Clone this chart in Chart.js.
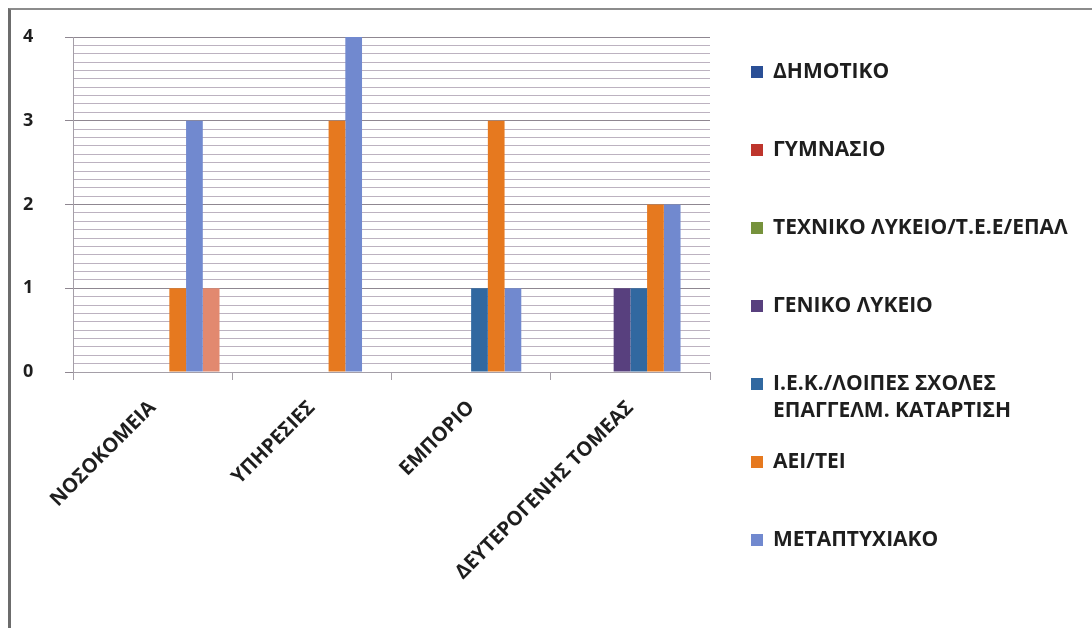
<!DOCTYPE html>
<html>
<head>
<meta charset="utf-8">
<title>Κλάδοι απασχόλησης ανά επίπεδο εκπαίδευσης</title>
<script src="https://cdn.jsdelivr.net/npm/chart.js@4.4.1/dist/chart.umd.min.js"></script>
<style>
  html, body { margin: 0; padding: 0; background: #fff; }
  #moldura {
    position: absolute; left: 8px; top: 8px;
    width: 1084px; height: 620px; box-sizing: border-box;
    border-top: 2px solid #8c8c8c; border-left: 3px solid #6c6c6c;
  }
  #moldura canvas { display: block; }
</style>
</head>
<body>
<div id="moldura"><canvas id="grafico" width="1081" height="618"></canvas></div>
<script>
// categorias (eixo x)
const categorias = ["ΝΟΣΟΚΟΜΕΙΑ", "ΥΠΗΡΕΣΙΕΣ", "ΕΜΠΟΡΙΟ", "ΔΕΥΤΕΡΟΓΕΝΗΣ ΤΟΜΕΑΣ"];

// séries
const nomesSeries = [
  "ΔΗΜΟΤΙΚΟ",
  "ΓΥΜΝΑΣΙΟ",
  "ΤΕΧΝΙΚΟ ΛΥΚΕΙΟ/Τ.Ε.Ε/ΕΠΑΛ",
  "ΓΕΝΙΚΟ ΛΥΚΕΙΟ",
  "Ι.Ε.Κ./ΛΟΙΠΕΣ ΣΧΟΛΕΣ\nΕΠΑΓΓΕΛΜ. ΚΑΤΑΡΤΙΣΗ",
  "ΑΕΙ/ΤΕΙ",
  "ΜΕΤΑΠΤΥΧΙΑΚΟ",
  ""
];
const dimotiko     = [0, 0, 0, 0];
const gymnasio     = [0, 0, 0, 0];
const texniko      = [0, 0, 0, 0];
const genikoLykeio = [0, 0, 0, 1];
const iek          = [0, 0, 1, 1];
const aeiTei       = [1, 3, 3, 2];
const metaptyxiako = [3, 4, 1, 2];
const semNome      = [1, 0, 0, 0];

// rótulos do eixo y
const rotulosY = ["0", "1", "2", "3", "4"];

const valores = [dimotiko, gymnasio, texniko, genikoLykeio, iek, aeiTei, metaptyxiako, semNome];
const cores = ["#2a4f96", "#be352c", "#76923c", "#58407e", "#3168a0", "#e6791f", "#7189cf", "#e2896f"];

// LEGENDA
const legenda = {
  id: "legenda",
  afterDraw(chart) {
    const ctx = chart.ctx;
    const x = chart.chartArea.right + 41;
    let y = 62;
    ctx.save();
    ctx.font = "bold 21px 'Open Sans'";
    ctx.textBaseline = "middle";
    chart.data.datasets.forEach(ds => {
      if (!ds.label) return;
      ctx.fillStyle = ds.backgroundColor;
      ctx.fillRect(x, y - 6, 12, 12);
      ctx.fillStyle = "#1e1e1e";
      ds.label.split("\n").forEach((linha, i) => ctx.fillText(linha, x + 22, y + i * 27));
      y += 78;
    });
    ctx.restore();
  }
};

// linhas inteiras mais escuras
function inteiro(v) {
  return Math.abs(v - Math.round(v)) < 1e-6;
}

let ctx = document.getElementById("grafico").getContext("2d");

let grafico = new Chart(ctx, {
  type: "bar",
  data: {
    labels: categorias,
    datasets: valores.map((serie, i) => ({
      label: nomesSeries[i],
      data: serie,
      backgroundColor: cores[i],
      categoryPercentage: 0.84,
      barPercentage: 1.0
    }))
  },
  options: {
    responsive: false,
    animation: false,
    devicePixelRatio: 1,
    layout: { padding: { top: 27, right: 382, left: 12, bottom: 0 } },
    plugins: {
      legend: { display: false },
      tooltip: { enabled: false }
    },
    scales: {
      x: {
        offset: true,
        grid: { offset: true, drawOnChartArea: false, color: "#a59fa8", tickLength: 8 },
        border: { color: "#a59fa8" },
        ticks: {
          maxRotation: 45,
          minRotation: 45,
          padding: 16,
          color: "#1e1e1e",
          font: { family: "'Open Sans'", size: 20, weight: "bold" }
        },
        afterFit(scale) { scale.height = 256; }
      },
      y: {
        min: 0,
        max: 4,
        grid: {
          color: c => inteiro(c.tick.value) ? "#8f8791" : "#bcb2c0",
          tickColor: c => inteiro(c.tick.value) ? "#8f8791" : "transparent",
          tickLength: 8
        },
        border: { color: "#a59fa8" },
        ticks: {
          stepSize: 0.1,
          autoSkip: false,
          padding: 4,
          crossAlign: "far",
          color: "#1e1e1e",
          font: { family: "'Open Sans'", size: 18, weight: "bold" },
          callback: v => inteiro(v) ? rotulosY[Math.round(v)] : ""
        },
        afterFit(scale) { scale.width = 50; }
      }
    }
  },
  plugins: [legenda]
});
</script>
</body>
</html>
